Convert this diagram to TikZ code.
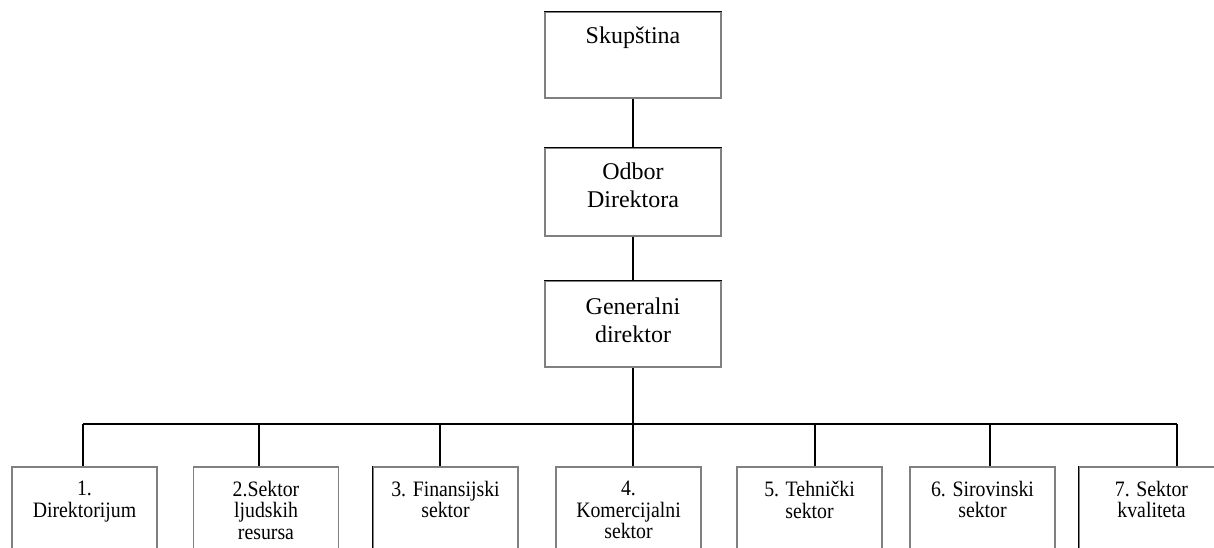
\documentclass[tikz,border=0pt]{standalone}
\usepackage{fontspec}
\setmainfont{Liberation Serif}
\newfontfamily\narrowserif[FakeStretch=0.9]{Liberation Serif}
\begin{document}
\begin{tikzpicture}[x=1pt,y=-1pt]
\tikzset{
  box/.style={draw=black!50, line width=1.4pt, inner sep=0pt, fill=white},
  topbox/.style={box, minimum width=176pt},
  botbox/.style={box, minimum width=145pt, minimum height=140pt},
  toptext/.style={anchor=north, inner sep=0pt, align=center, font=\fontsize{24}{27.5}\selectfont},
  bottext/.style={anchor=north, inner sep=0pt, align=center, font=\narrowserif\fontsize{22}{21.5}\selectfont},
  link/.style={line width=1.4pt, draw=black},
  darkedge/.style={line width=1.4pt, draw=black}
}
\useasboundingbox (0,0) rectangle (1214,548);
\clip (0,0) rectangle (1214,548);

% top chain
\node[topbox, minimum height=86pt] (sk) at (633,55) {};
\node[toptext] (skt) at (633,26.5) {Skupština};
\node[topbox, minimum height=88pt] (od) at (633,192) {};
\node[toptext] (odt) at (633,163) {Odbor\\Direktora};
\node[topbox, minimum height=86pt] (gd) at (633,324) {};
\node[toptext] (gdt) at (633,298) {Generalni\\direktor};
\draw[darkedge] (sk.north west) -- (sk.north east);
\draw[darkedge] (od.north west) -- (od.north east);
\draw[darkedge] (gd.north west) -- (gd.north east);

% bottom boxes
\node[botbox] (b1) at (84.5,537) {};
\node[botbox] (b2) at (266,537) {};
\node[botbox] (b3) at (445.5,537) {};
\node[botbox] (b4) at (628.5,537) {};
\node[botbox] (b5) at (809.5,537) {};
\node[botbox] (b6) at (982.5,537) {};
\node[botbox] (b7) at (1151.5,537) {};
\draw[darkedge] (b3.north west) -- (b3.south west);
\draw[darkedge] (b7.north west) -- (b7.south west);

\node[bottext] (t1) at (84.5,481) {1.\\Direktorijum};
\node[bottext] (t2) at (266,481) {2.Sektor\\ljudskih\\resursa};
\node[bottext] (t3) at (445.5,481) {3. Finansijski\\sektor};
\node[bottext] (t4) at (628.5,481) {4.\\Komercijalni\\sektor};
\node[bottext] (t5) at (809.5,481) {5. Tehnički\\sektor};
\node[bottext] (t6) at (982.5,481) {6. Sirovinski\\sektor};
\node[bottext] (t7) at (1151.5,481) {7. Sektor\\kvaliteta};

% connectors
\coordinate (c1) at (83,424);
\coordinate (c2) at (259,424);
\coordinate (c3) at (440,424);
\coordinate (c4) at (633,424);
\coordinate (c5) at (815,424);
\coordinate (c6) at (990,424);
\coordinate (c7) at (1177,424);
\draw[link] (sk.south) -- (od.north);
\draw[link] (od.south) -- (gd.north);
\draw[link] (gd.south) -- (c4);
\draw[link] (c1) -- (c7);
\draw[link] (c1) -- (c1 |- b1.north);
\draw[link] (c2) -- (c2 |- b2.north);
\draw[link] (c3) -- (c3 |- b3.north);
\draw[link] (c4) -- (c4 |- b4.north);
\draw[link] (c5) -- (c5 |- b5.north);
\draw[link] (c6) -- (c6 |- b6.north);
\draw[link] (c7) -- (c7 |- b7.north);
\end{tikzpicture}
\end{document}
